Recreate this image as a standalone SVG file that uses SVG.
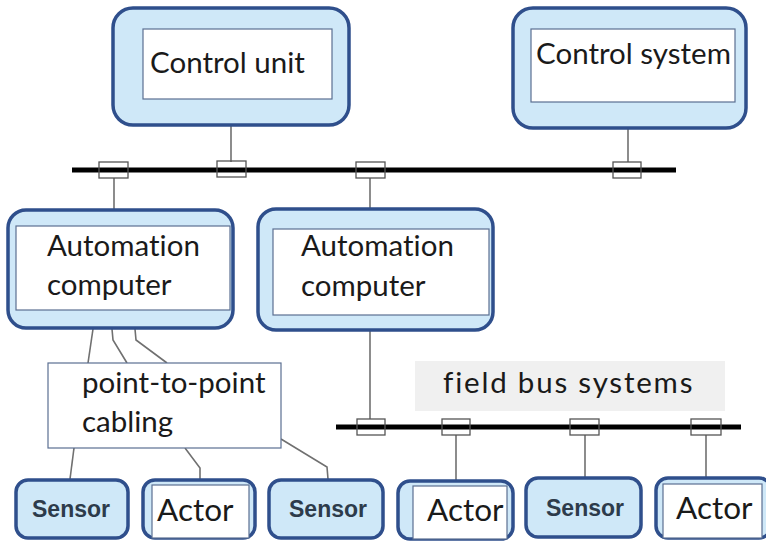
<svg xmlns="http://www.w3.org/2000/svg" width="766" height="541" viewBox="0 0 766 541">
  <style>
    .outer { fill: #cfe8f8; stroke: #2f4f8c; stroke-width: 3.5; }
    .inner { fill: #ffffff; stroke: #5b6f92; stroke-width: 1.2; }
    .lbl { font-family: Lato, "Open Sans", sans-serif; fill: #1a1a1a; font-variant-ligatures: none; }
    .big { font-size: 29.5px; }
    .mid { font-size: 29.5px; }
    .act { font-size: 31.5px; }
    .sen { font-family: "Liberation Sans", Arial, sans-serif; font-weight: bold; font-size: 23px; fill: #2d3b4b; }
    .bus { stroke: #000000; stroke-width: 5; }
    .tap { fill: none; stroke: #555555; stroke-width: 1.3; }
    .wire { fill: none; stroke: #707070; stroke-width: 1.6; }
  </style>

  <rect width="766" height="541" fill="#ffffff"/>

  <!-- connectors: buses, bus taps and cabling -->
  <g id="connectors">
    <line class="bus" x1="72" y1="170" x2="676" y2="170"/>
    <line class="bus" x1="336" y1="427" x2="741" y2="427"/>

    <line class="wire" x1="231" y1="125" x2="231" y2="162"/>
    <line class="wire" x1="628" y1="128" x2="628" y2="162"/>
    <line class="wire" x1="114" y1="178" x2="114" y2="209"/>
    <line class="wire" x1="370" y1="178" x2="370" y2="209"/>
    <line class="wire" x1="370" y1="330" x2="370" y2="419"/>
    <line class="wire" x1="456" y1="435" x2="456" y2="480"/>
    <line class="wire" x1="585" y1="435" x2="585" y2="478"/>
    <line class="wire" x1="706" y1="435" x2="706" y2="478"/>

    <polyline class="wire" points="93,329 88,363"/>
    <polyline class="wire" points="112,329 113,340 127,363"/>
    <polyline class="wire" points="135,329 136,340 167,363"/>
    <polyline class="wire" points="74,448 70,479"/>
    <polyline class="wire" points="185,448 200,468 200,479"/>
    <polyline class="wire" points="281,439 327,467 328,479"/>

    <rect class="tap" x="99" y="162" width="29" height="16"/>
    <rect class="tap" x="217" y="161" width="29" height="16"/>
    <rect class="tap" x="356" y="162" width="29" height="16"/>
    <rect class="tap" x="613" y="162" width="28" height="16"/>
    <rect class="tap" x="357" y="419" width="28" height="16"/>
    <rect class="tap" x="442" y="419" width="28" height="16"/>
    <rect class="tap" x="570" y="419" width="29" height="16"/>
    <rect class="tap" x="691" y="419" width="30" height="16"/>
  </g>

  <g id="control-unit">
    <rect class="outer" x="113" y="8" width="236" height="117" rx="20"/>
    <rect class="inner" x="143" y="29" width="189" height="70"/>
    <text class="lbl big" x="150" y="73">Control unit</text>
  </g>

  <g id="control-system">
    <rect class="outer" x="513" y="8" width="233" height="120" rx="20"/>
    <rect class="inner" x="531" y="29" width="204" height="73"/>
    <text class="lbl big" x="536" y="64">Control system</text>
  </g>

  <g id="automation-computer-1">
    <rect class="outer" x="8" y="210" width="225" height="118" rx="18"/>
    <rect class="inner" x="16" y="226" width="214" height="84"/>
    <text class="lbl mid" x="47" y="256">Automation</text>
    <text class="lbl mid" x="47" y="295">computer</text>
  </g>

  <g id="automation-computer-2">
    <rect class="outer" x="258" y="209" width="235" height="121" rx="18"/>
    <rect class="inner" x="273" y="229" width="216" height="86"/>
    <text class="lbl mid" x="301" y="256">Automation</text>
    <text class="lbl mid" x="301" y="296">computer</text>
  </g>

  <g id="point-to-point-label">
    <rect x="48" y="363" width="233" height="85" fill="#ffffff" stroke="#5b6f92" stroke-width="1.2"/>
    <text class="lbl mid" x="82" y="393">point-to-point</text>
    <text class="lbl mid" x="82" y="432">cabling</text>
  </g>

  <g id="field-bus-label">
    <rect x="415" y="361" width="310" height="50" fill="#f0f0f0"/>
    <text class="lbl mid" x="443" y="393" letter-spacing="1.8">field bus systems</text>
  </g>

  <g id="sensor-1">
    <rect class="outer" x="16" y="480" width="112" height="58" rx="12"/>
    <text class="sen" x="32" y="517">Sensor</text>
  </g>

  <g id="actor-1">
    <rect class="outer" x="143" y="480" width="112" height="58" rx="12"/>
    <rect class="inner" x="152" y="485" width="97" height="53"/>
    <text class="lbl act" x="157" y="521">Actor</text>
  </g>

  <g id="sensor-2">
    <rect class="outer" x="269" y="480" width="114" height="58" rx="12"/>
    <text class="sen" x="289" y="517">Sensor</text>
  </g>

  <g id="actor-2">
    <rect class="outer" x="398" y="481" width="115" height="58" rx="12"/>
    <rect class="inner" x="413" y="486" width="94" height="53"/>
    <text class="lbl act" x="427" y="521">Actor</text>
  </g>

  <g id="sensor-3">
    <rect class="outer" x="526" y="478" width="115" height="59" rx="12"/>
    <text class="sen" x="546" y="516">Sensor</text>
  </g>

  <g id="actor-3">
    <rect class="outer" x="656" y="478" width="115" height="60" rx="12"/>
    <rect class="inner" x="663" y="484" width="99" height="54"/>
    <text class="lbl act" x="676" y="519">Actor</text>
  </g>
</svg>
